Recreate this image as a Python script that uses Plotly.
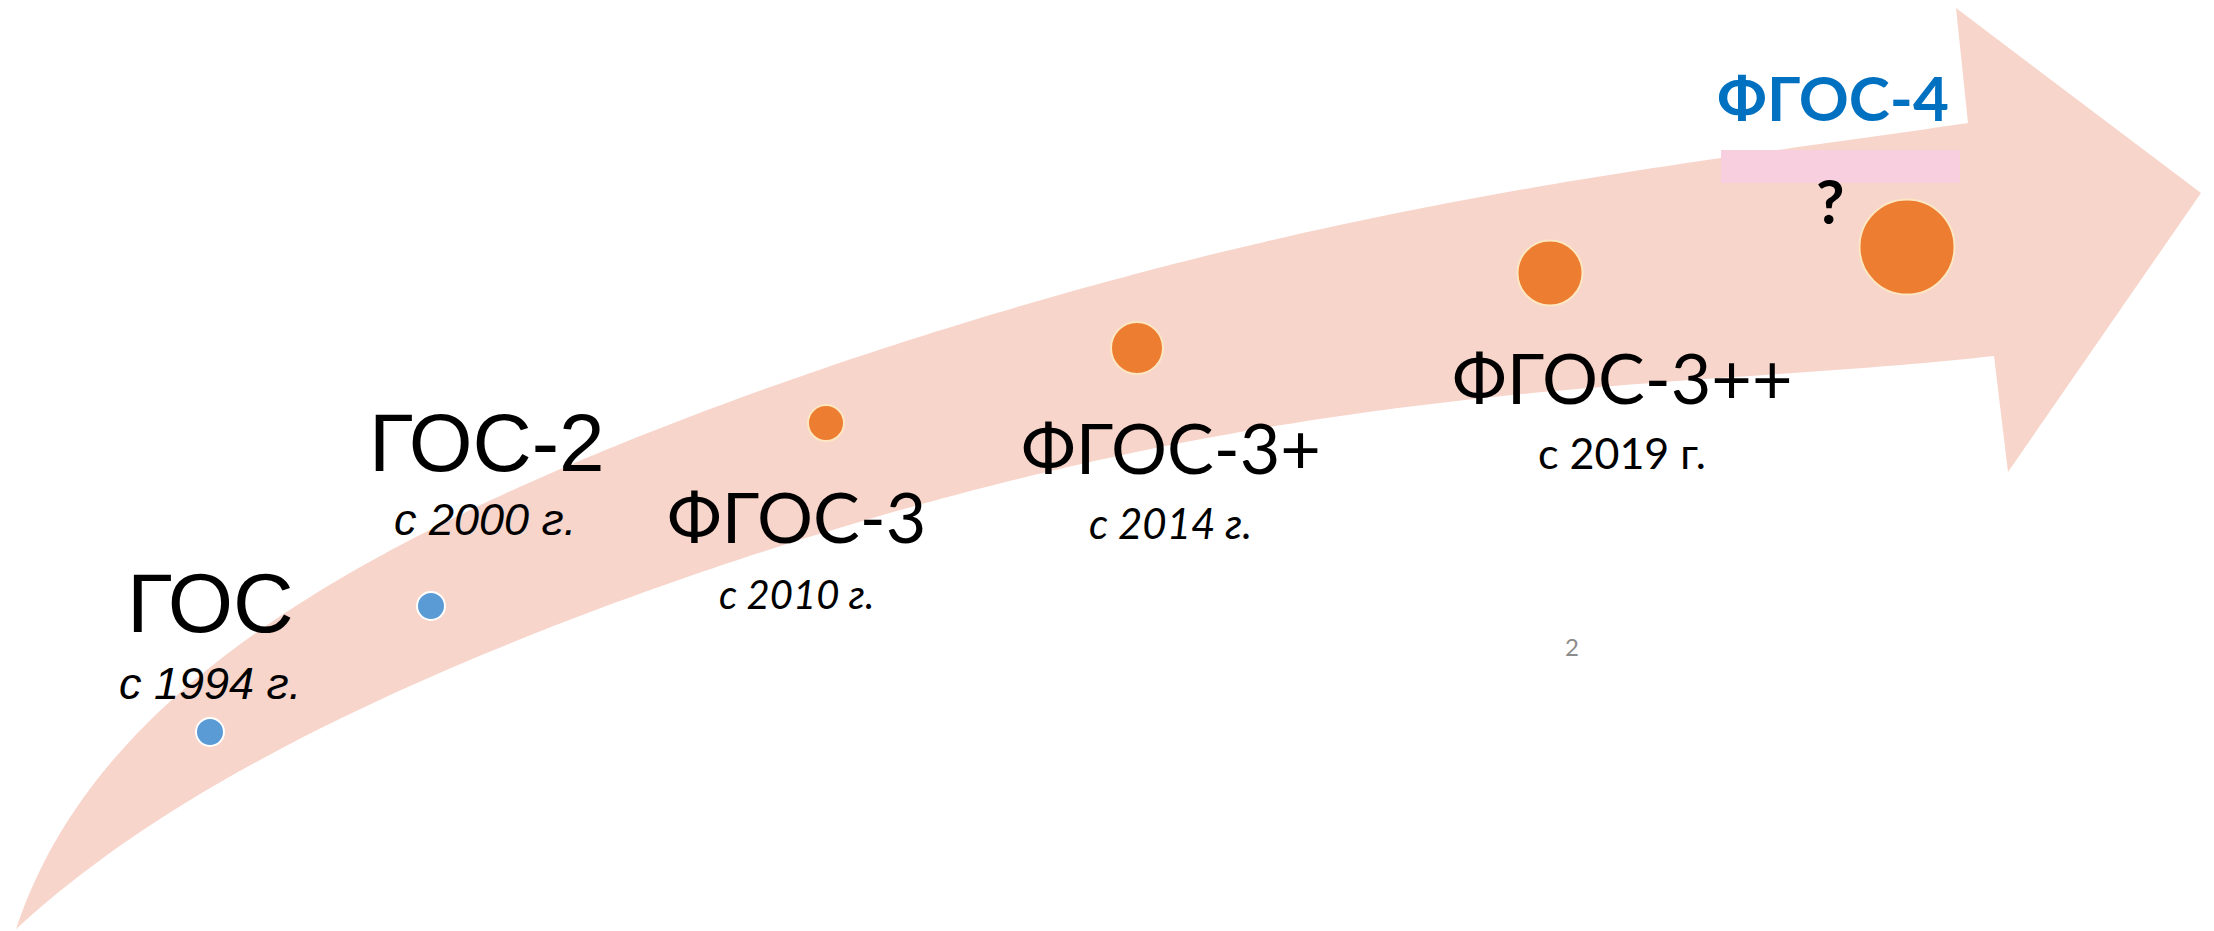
import numpy as np
import plotly.graph_objects as go

W, H = 2214, 931

# ---- data ----
stages = ["ГОС", "ГОС-2", "ФГОС-3", "ФГОС-3+", "ФГОС-3++", "ФГОС-4"]
years = ["с 1994 г.", "с 2000 г.", "с 2010 г.", "с 2014 г.", "с 2019 г.", "?"]
dot_x = [210, 431, 826, 1137, 1550, 1907]
dot_y = [732, 606, 423, 348, 273, 247]
dot_size = [28, 28, 36, 52, 65, 95]
dot_color = ["#5B9BD5", "#5B9BD5", "#ED7D31", "#ED7D31", "#ED7D31", "#ED7D31"]
dot_edge = ["#FFFFFF", "#FFFFFF", "#FDE7C2", "#FDE7C2", "#FDE7C2", "#FDE7C2"]

# label placement (pixel coordinates of the slide)
title_x = [210, 487, 796, 1171, 1622, 1833]
title_y = [603, 442, 516, 447, 377, 97]
title_size = [84, 82, 70, 70, 70, 62]
title_font = ["Liberation Sans", "Liberation Sans", "Lato", "Lato", "Lato", "Lato"]
title_weight = ["normal", "normal", "normal", "normal", "normal", "bold"]
title_color = ["#000000"] * 5 + ["#0070C0"]

sub_x = [210, 485, 796, 1170, 1622, 1830]
sub_y = [683, 519, 594, 523, 452, 200]
sub_size = [45, 45, 40, 42, 43, 62]
sub_font = ["Liberation Sans", "Liberation Sans", "Lato", "Lato", "Lato", "Lato"]
sub_style = ["italic", "italic", "italic", "italic", "normal", "normal"]
sub_weight = ["normal"] * 5 + ["bold"]

page_number = "2"

# arrow outline
upper_edge = [(16, 929), (47, 849), (141, 733), (282, 613), (424, 533), (565, 466), (738, 400),
              (926, 337), (1114, 277), (1303, 233), (1476, 198), (1711, 160), (1968, 123)]
lower_edge = [(16, 929), (47, 896), (141, 829), (282, 749), (424, 683), (565, 623), (738, 556),
              (1070, 466), (1303, 423), (1476, 400), (1711, 377), (1994, 356)]
head = [(1956, 8), (2201, 193), (2008, 472)]


def smooth(pts, deg=5, n=200):
    p = np.array(pts, dtype=float)
    d = np.r_[0, np.cumsum(np.hypot(*np.diff(p, axis=0).T))]
    t = d / d[-1]
    w = np.ones(len(p))
    w[0] = w[-1] = 20
    fx = np.polyfit(t, p[:, 0], deg, w=w)
    fy = np.polyfit(t, p[:, 1], deg, w=w)
    tt = np.linspace(0, 1, n)
    out = np.c_[np.polyval(fx, tt), np.polyval(fy, tt)]
    out[0], out[-1] = p[0], p[-1]
    return out


up = smooth(upper_edge)
lo = smooth(lower_edge)[::-1]
poly = np.vstack([up, np.array(head, dtype=float), lo])
path = "M " + " L ".join(f"{x:.1f},{y:.1f}" for x, y in poly) + " Z"

fig = go.Figure()
fig.add_shape(type="path", path=path, fillcolor="#F7D5CB", line=dict(width=0), layer="below")

# pink highlight patch under ФГОС-4
fig.add_shape(type="rect", x0=1721, x1=1960, y0=150, y1=183, line=dict(width=0),
              fillcolor="#F8CFDF", layer="below")

fig.add_trace(go.Scatter(x=dot_x, y=dot_y, mode="markers",
                         marker=dict(size=dot_size, color=dot_color, opacity=1,
                                     line=dict(width=2, color=dot_edge)),
                         hoverinfo="skip", showlegend=False))

for i in range(len(stages)):
    fig.add_annotation(x=title_x[i], y=title_y[i], text=stages[i], showarrow=False,
                       xanchor="center", yanchor="middle",
                       font=dict(family=title_font[i], size=title_size[i], color=title_color[i],
                                 weight=title_weight[i]))
    fig.add_annotation(x=sub_x[i], y=sub_y[i], text=years[i], showarrow=False,
                       xanchor="center", yanchor="middle",
                       font=dict(family=sub_font[i], size=sub_size[i], color="#000000",
                                 style=sub_style[i], weight=sub_weight[i]))

fig.add_annotation(x=1572, y=646, text=page_number, showarrow=False,
                   font=dict(family="Lato", size=24, color="#8C8C8C"))

fig.update_layout(width=W, height=H, margin=dict(l=0, r=0, t=0, b=0),
                  paper_bgcolor="white", plot_bgcolor="white",
                  xaxis=dict(range=[0, W], visible=False, fixedrange=True),
                  yaxis=dict(range=[H, 0], visible=False, fixedrange=True))

fig.write_html("out.html", config={"displayModeBar": False},
               post_script="document.body.style.margin='0';document.body.style.overflow='hidden';")
